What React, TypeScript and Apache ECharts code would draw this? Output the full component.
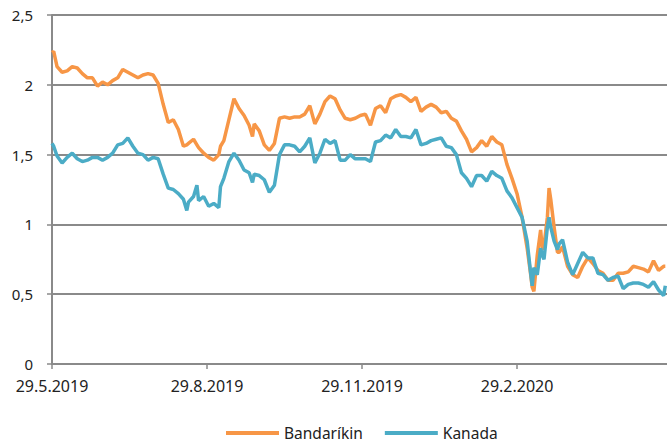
import React, { useEffect, useRef } from "react";
import * as echarts from "echarts";

const dates = [
  "2019-05-29", "2019-05-30", "2019-06-01", "2019-06-04", "2019-06-07", "2019-06-10", "2019-06-13", "2019-06-16",
  "2019-06-19", "2019-06-22", "2019-06-25", "2019-06-28", "2019-07-01", "2019-07-04", "2019-07-07", "2019-07-10",
  "2019-07-13", "2019-07-16", "2019-07-19", "2019-07-22", "2019-07-25", "2019-07-28", "2019-07-31", "2019-08-03",
  "2019-08-06", "2019-08-09", "2019-08-12", "2019-08-15", "2019-08-17", "2019-08-18", "2019-08-21", "2019-08-23",
  "2019-08-24", "2019-08-27", "2019-08-30", "2019-09-02", "2019-09-05", "2019-09-06", "2019-09-08", "2019-09-11",
  "2019-09-14", "2019-09-17", "2019-09-20", "2019-09-23", "2019-09-25", "2019-09-26", "2019-09-29", "2019-10-02",
  "2019-10-05", "2019-10-08", "2019-10-11", "2019-10-14", "2019-10-17", "2019-10-20", "2019-10-23", "2019-10-26",
  "2019-10-29", "2019-11-01", "2019-11-04", "2019-11-07", "2019-11-10", "2019-11-13", "2019-11-16", "2019-11-19",
  "2019-11-22", "2019-11-25", "2019-11-28", "2019-12-01", "2019-12-04", "2019-12-07", "2019-12-10", "2019-12-13",
  "2019-12-16", "2019-12-19", "2019-12-22", "2019-12-25", "2019-12-28", "2019-12-31", "2020-01-03", "2020-01-06",
  "2020-01-09", "2020-01-12", "2020-01-15", "2020-01-18", "2020-01-21", "2020-01-24", "2020-01-27", "2020-01-30",
  "2020-02-02", "2020-02-05", "2020-02-08", "2020-02-11", "2020-02-14", "2020-02-17", "2020-02-20", "2020-02-23",
  "2020-02-26", "2020-02-29", "2020-03-03", "2020-03-06", "2020-03-08", "2020-03-09", "2020-03-10", "2020-03-12",
  "2020-03-14", "2020-03-15", "2020-03-16", "2020-03-18", "2020-03-19", "2020-03-20", "2020-03-22", "2020-03-24",
  "2020-03-25", "2020-03-27", "2020-03-30", "2020-04-02", "2020-04-05", "2020-04-08", "2020-04-11", "2020-04-14",
  "2020-04-17", "2020-04-20", "2020-04-23", "2020-04-26", "2020-04-29", "2020-05-02", "2020-05-05", "2020-05-08",
  "2020-05-11", "2020-05-14", "2020-05-17", "2020-05-20", "2020-05-23", "2020-05-26", "2020-05-27",
];

const bandarikin = [
  2.23, 2.24, 2.13, 2.09, 2.10, 2.13, 2.12, 2.08,
  2.05, 2.05, 1.99, 2.02, 2.00, 2.03, 2.05, 2.11,
  2.09, 2.07, 2.05, 2.07, 2.08, 2.07, 2.01, 1.86,
  1.73, 1.75, 1.68, 1.56, 1.57, 1.58, 1.61, 1.57,
  1.55, 1.51, 1.48, 1.46, 1.50, 1.56, 1.60, 1.75,
  1.90, 1.83, 1.78, 1.71, 1.63, 1.72, 1.67, 1.57,
  1.53, 1.58, 1.76, 1.77, 1.76, 1.77, 1.77, 1.79,
  1.85, 1.72, 1.79, 1.88, 1.92, 1.90, 1.82, 1.76,
  1.75, 1.76, 1.78, 1.79, 1.71, 1.83, 1.85, 1.80,
  1.90, 1.92, 1.93, 1.91, 1.88, 1.91, 1.81, 1.84,
  1.86, 1.84, 1.80, 1.81, 1.76, 1.74, 1.67, 1.61,
  1.52, 1.55, 1.60, 1.56, 1.63, 1.59, 1.57, 1.43,
  1.33, 1.22, 1.05, 0.83, 0.65, 0.55, 0.52, 0.78,
  0.96, 0.82, 0.85, 1.05, 1.26, 1.18, 0.98, 0.80,
  0.80, 0.84, 0.70, 0.64, 0.62, 0.70, 0.76, 0.72,
  0.67, 0.65, 0.60, 0.60, 0.65, 0.65, 0.66, 0.70,
  0.69, 0.68, 0.66, 0.74, 0.67, 0.70, 0.70,
];

const kanada = [
  1.58, 1.56, 1.49, 1.44, 1.48, 1.51, 1.47, 1.45,
  1.46, 1.48, 1.48, 1.46, 1.48, 1.51, 1.57, 1.58,
  1.62, 1.56, 1.51, 1.50, 1.46, 1.48, 1.47, 1.36,
  1.26, 1.25, 1.22, 1.18, 1.10, 1.16, 1.20, 1.28,
  1.17, 1.20, 1.13, 1.15, 1.12, 1.27, 1.33, 1.45,
  1.51, 1.46, 1.39, 1.37, 1.30, 1.36, 1.35, 1.32,
  1.23, 1.28, 1.50, 1.57, 1.57, 1.56, 1.52, 1.56,
  1.62, 1.44, 1.51, 1.61, 1.58, 1.60, 1.46, 1.46,
  1.50, 1.47, 1.47, 1.47, 1.45, 1.59, 1.60, 1.64,
  1.62, 1.68, 1.63, 1.63, 1.62, 1.68, 1.57, 1.58,
  1.60, 1.61, 1.62, 1.56, 1.55, 1.50, 1.37, 1.33,
  1.27, 1.35, 1.35, 1.31, 1.38, 1.35, 1.33, 1.24,
  1.19, 1.12, 1.05, 0.88, 0.66, 0.56, 0.69, 0.64,
  0.83, 0.78, 0.75, 0.98, 1.05, 0.98, 0.88, 0.82,
  0.86, 0.89, 0.73, 0.64, 0.72, 0.80, 0.76, 0.76,
  0.65, 0.64, 0.60, 0.62, 0.63, 0.54, 0.57, 0.58,
  0.58, 0.57, 0.55, 0.59, 0.53, 0.49, 0.56,
];

const tickDates = ["2019-05-29", "2019-08-29", "2019-11-29", "2020-02-29"];
const seriesNames = ["Bandaríkin", "Kanada"];
const colors = ["#F79646", "#4BACC6"];

function toTs(s: string): number {
  const [y, m, d] = s.split("-").map(Number);
  return new Date(y, m - 1, d).getTime();
}

export default function App() {
  const ref = useRef<HTMLDivElement>(null);

  useEffect(() => {
    if (!ref.current) return;
    const chart = echarts.init(ref.current, null, { renderer: "svg" });
    const ts = dates.map(toTs);
    const tickTs = tickDates.map(toTs);
    const axisColor = "#8a8a8a";
    const font = "'Noto Sans', 'Liberation Sans', sans-serif";

    chart.setOption({
      animation: false,
      color: colors,
      grid: { left: 52, right: 0, top: 15, bottom: 84, containLabel: false },
      legend: {
        data: seriesNames,
        top: 422,
        left: 221,
        icon: "rect",
        itemWidth: 53,
        itemHeight: 4,
        itemGap: 22,
        padding: [2, 5, 2, 5],
        textStyle: { fontSize: 15.5, color: "#222", fontFamily: font, lineHeight: 18 },
      },
      xAxis: {
        type: "value",
        min: toTs("2019-05-29"),
        max: toTs("2020-05-28"),
        axisLine: { show: true, onZero: false, lineStyle: { color: axisColor, width: 2 } },
        axisTick: {
          show: true,
          customValues: tickTs,
          length: 5,
          lineStyle: { color: axisColor, width: 1.5 },
        },
        axisLabel: {
          customValues: tickTs,
          margin: 14,
          fontSize: 16,
          color: "#222",
          fontFamily: font,
          formatter: (v: number) => {
            const d = new Date(v);
            return `${d.getDate()}.${d.getMonth() + 1}.${d.getFullYear()}`;
          },
        },
        splitLine: { show: false },
      },
      yAxis: {
        type: "value",
        min: 0,
        max: 2.5,
        interval: 0.5,
        axisLine: { show: true, lineStyle: { color: axisColor, width: 2 } },
        axisTick: { show: true, length: 5, lineStyle: { color: axisColor, width: 1.5 } },
        axisLabel: {
          margin: 19,
          fontSize: 15,
          color: "#222",
          fontFamily: font,
          formatter: (v: number) => String(v).replace(".", ","),
        },
        splitLine: { show: true, lineStyle: { color: axisColor, width: 2 } },
      },
      series: [
        {
          name: seriesNames[0],
          type: "line",
          data: ts.map((t, i) => [t, bandarikin[i]]),
          symbol: "none",
          lineStyle: { width: 3.5, color: colors[0] },
          itemStyle: { color: colors[0] },
          z: 2,
        },
        {
          name: seriesNames[1],
          type: "line",
          data: ts.map((t, i) => [t, kanada[i]]),
          symbol: "none",
          lineStyle: { width: 3.5, color: colors[1] },
          itemStyle: { color: colors[1] },
          z: 3,
        },
      ],
    });

    return () => chart.dispose();
  }, []);

  return (
    <div
      ref={ref}
      style={{ position: "fixed", left: 0, top: 0, width: 667, height: 448, background: "#fff" }}
    />
  );
}
